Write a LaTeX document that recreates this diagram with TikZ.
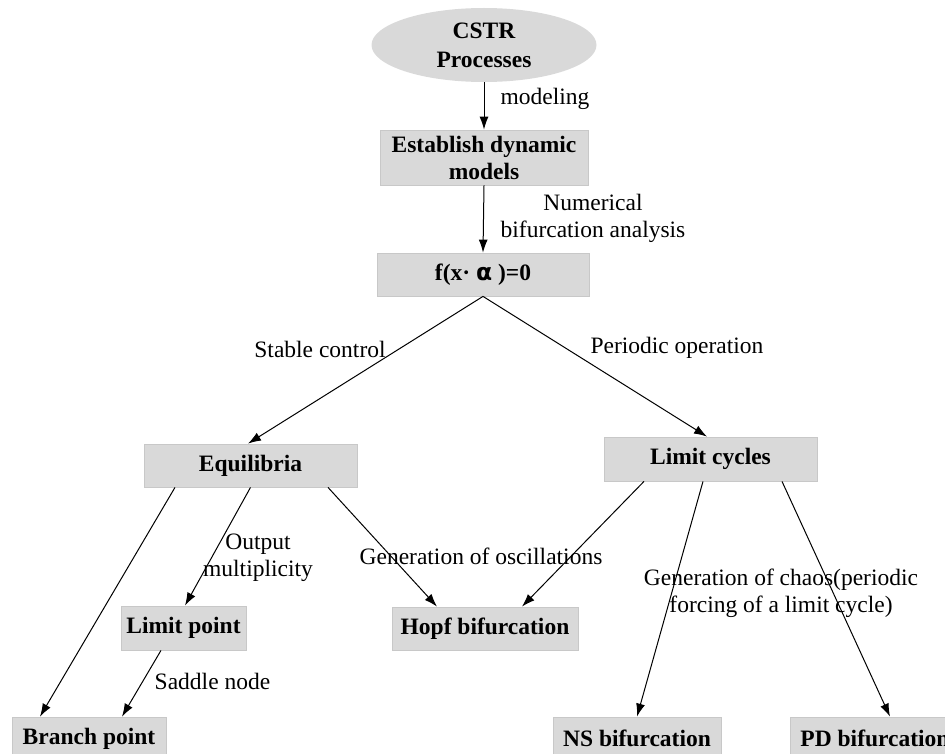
\documentclass[tikz,border=0pt]{standalone}
\usepackage{fontspec}
\setmainfont{Liberation Serif}
\newfontfamily\greekfont{DejaVu Sans}
\usetikzlibrary{arrows.meta,shapes.geometric}
\definecolor{boxgray}{RGB}{217,217,217}
\definecolor{edgegray}{RGB}{200,200,200}
\begin{document}
\begin{tikzpicture}[x=1pt,y=-1pt,
		box/.style={draw=edgegray,line width=0.8pt,fill=boxgray,inner sep=0pt,align=center,font=\fontsize{23.5}{27}\selectfont\bfseries},
		oval/.style={ellipse,fill=boxgray,inner sep=0pt,align=center,font=\fontsize{23.5}{29}\selectfont\bfseries},
		lbl/.style={inner sep=0pt,align=center,font=\fontsize{23.5}{27}\selectfont},
		arr/.style={-{Latex[length=13pt,width=9pt]},line width=1pt}]
		\useasboundingbox(0,0)rectangle(945,754);
		\clip(0,0)rectangle(945,754);
		\node[oval,minimum width=225pt,minimum height=74pt](cstr)at(484,45){CSTR\\Processes};
		\node[box,minimum width=208pt,minimum height=55pt](model)at(484,157.5){Establish dynamic\\models};
		\node[box,minimum width=212pt,minimum height=43pt](f)at(483,274.5){f(x· {\greekfont\bfseries α} )=0};
		\node[box,minimum width=213pt,minimum height=43pt](eq)at(250.5,465.5){Equilibria};
		\node[box,minimum width=213pt,minimum height=44pt](lc)at(710.5,459){Limit cycles};
		\node[box,minimum width=125pt,minimum height=44pt](lp)at(183.5,628){Limit point};
		\node[box,minimum width=186pt,minimum height=43pt](hopf)at(485,628.5){Hopf bifurcation};
		\node[box,minimum width=154pt,minimum height=43pt](bp)at(89,738.5){Branch point};
		\node[box,minimum width=168pt,minimum height=43pt](ns)at(637,738.5){NS bifurcation};
		\node[box,minimum width=170pt,minimum height=43pt](pd)at(875,738.5){PD bifurcation};
		\node[lbl](modeling)at(545,99){modeling};
		\node[lbl](numerical)at(593,218){Numerical\\bifurcation analysis};
		\node[lbl](stable)at(320,349){Stable control};
		\node[lbl](periodic)at(677,348){Periodic operation};
		\node[lbl](output)at(258,558){Output\\multiplicity};
		\node[lbl](oscill)at(481,556){Generation of oscillations};
		\node[lbl](chaos)at(781,593){Generation of chaos(periodic\\forcing of a limit cycle)};
		\node[lbl](saddle)at(212.5,681){Saddle node};
		\draw[arr](cstr.south)--(model.north);
		\draw[arr](model.south)--(f.north);
		\draw[arr](f.south)--([xshift=-2.5pt]eq.north);
		\draw[arr](f.south)--([xshift=-3.5pt]lc.north);
		\draw[arr]([xshift=-75.5pt]eq.south)--([xshift=-49pt]bp.north);
		\draw[arr](eq.south)--([xshift=1.5pt]lp.north);
		\draw[arr]([xshift=-22.5pt]lp.south)--([xshift=33pt]bp.north);
		\draw[arr]([xshift=77.5pt]eq.south)--([xshift=-48pt]hopf.north);
		\draw[arr]([xshift=-66.5pt]lc.south)--([xshift=37pt]hopf.north);
		\draw[arr]([xshift=-7.5pt]lc.south)--(ns.north);
		\draw[arr]([xshift=71.5pt]lc.south)--([xshift=15pt]pd.north);
	\end{tikzpicture}
\end{document}
